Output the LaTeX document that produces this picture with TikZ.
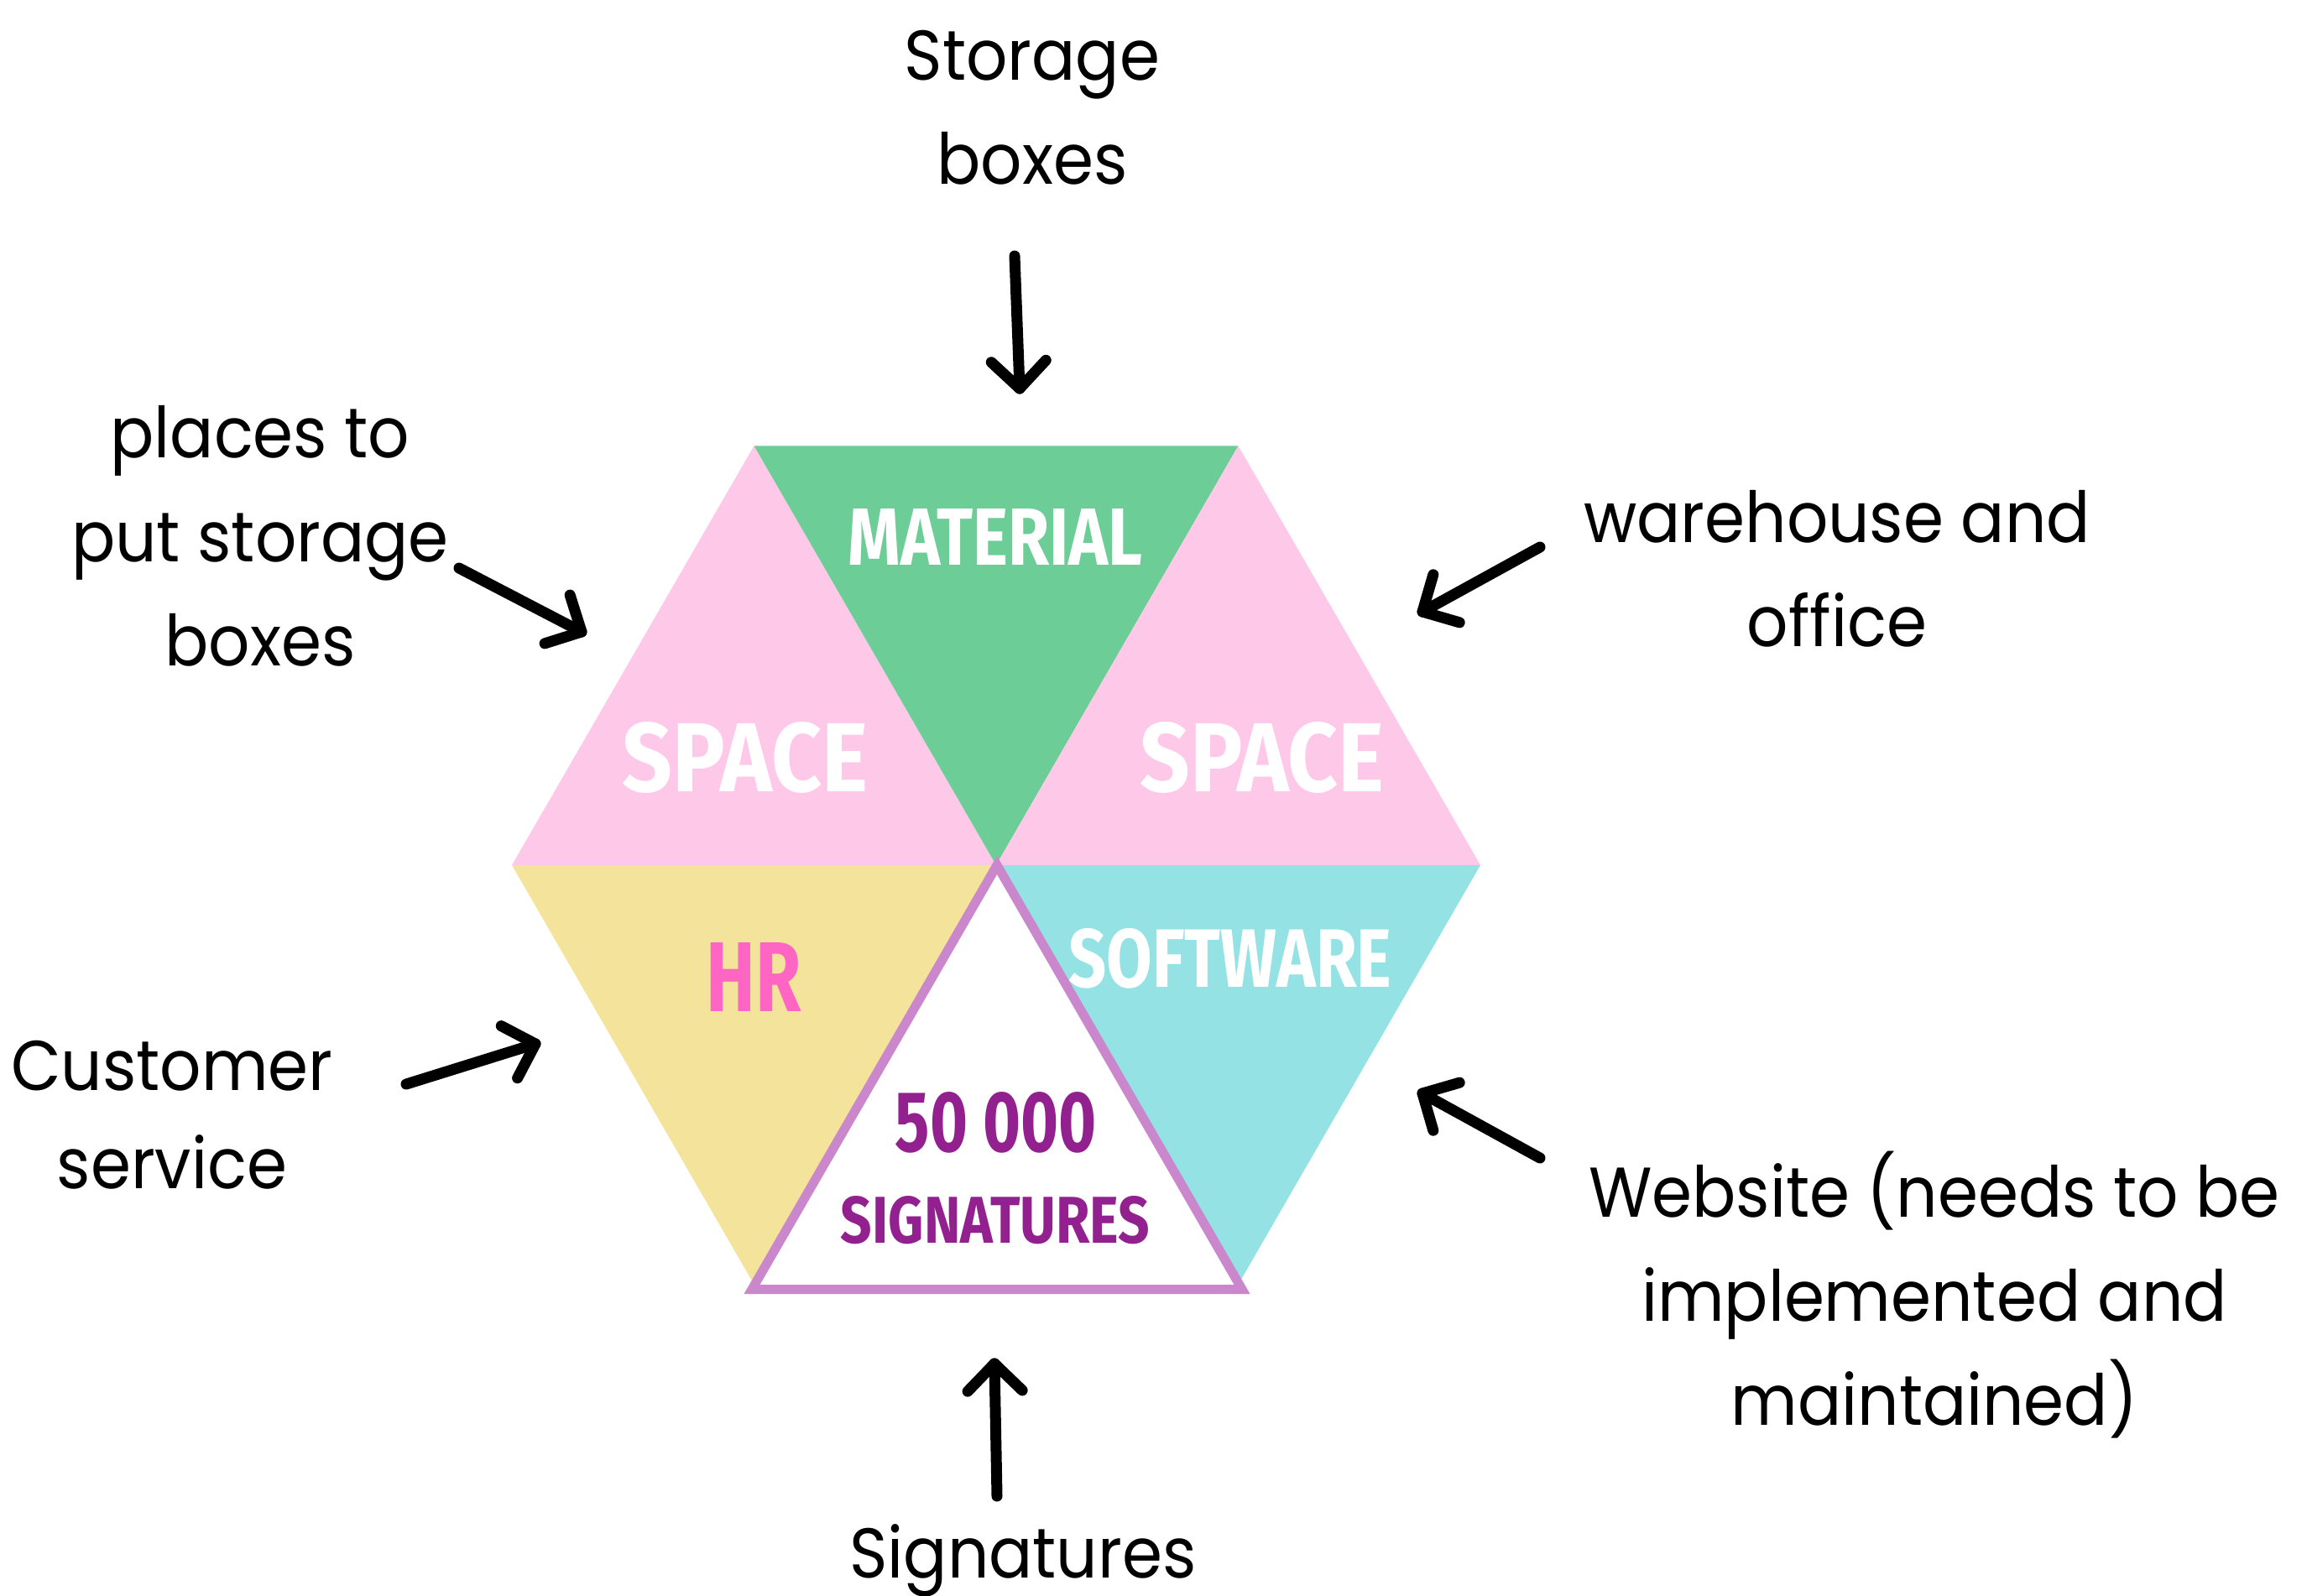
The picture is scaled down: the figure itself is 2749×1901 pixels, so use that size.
\documentclass[tikz,border=0pt]{standalone}
\usepackage{fontspec}
\usepackage{graphicx}
\setmainfont{Poppins}[FakeStretch=0.92]
\newfontfamily\dispfont{Fira Sans}
\usetikzlibrary{calc}
\definecolor{hexpink}{HTML}{FEC8E8}
\definecolor{hexgreen}{HTML}{6DCD97}
\definecolor{hexyellow}{HTML}{F4E39B}
\definecolor{hexcyan}{HTML}{95E2E5}
\definecolor{sigborder}{HTML}{CA87CB}
\definecolor{sigtext}{HTML}{92208F}
\definecolor{hrpink}{HTML}{FF66C4}
\newcommand\fitlab[3]{\resizebox{#1pt}{#2pt}{\dispfont\bfseries #3}}
\newcommand\lbl[1]{\begin{tabular}[t]{@{}c@{}}#1\end{tabular}}
\begin{document}
\begin{tikzpicture}[x=1pt,y=-1pt,
  labeltext/.style={inner sep=0pt,anchor=base,font=\fontsize{84}{124}\selectfont},
  titletext/.style={inner sep=0pt,anchor=center},
  arrowline/.style={line width=13pt,line cap=round,line join=round,black}]
\useasboundingbox (0,0) rectangle (2749,1901);
\fill[white] (0,0) rectangle (2749,1901);
% hexagon vertices (side 577, centre O)
\coordinate (O)  at (1187,1031);
\coordinate (TL) at (898.5,531.3);
\coordinate (TR) at (1475.5,531.3);
\coordinate (L)  at (610,1031);
\coordinate (R)  at (1764,1031);
\coordinate (BL) at (898.5,1530.7);
\coordinate (BR) at (1475.5,1530.7);
% triangles
\fill[hexpink]   (TL) -- (L) -- (O) -- cycle;
\fill[hexgreen]  (TL) -- (TR) -- (O) -- cycle;
\fill[hexpink]   (TR) -- (R) -- (O) -- cycle;
\fill[hexyellow] (L) -- (BL) -- (O) -- cycle;
\fill[hexcyan]   (R) -- (BR) -- (O) -- cycle;
% white signature triangle
\coordinate (SA) at (1188,1031);
\coordinate (SL) at (896,1536.5);
\coordinate (SR) at (1480,1536.5);
\filldraw[fill=white,draw=sigborder,line width=11pt,line join=miter] (SA) -- (SL) -- (SR) -- cycle;
% titles
\node[titletext,text=white] (material) at (1186,640) {\fitlab{351}{67}{MATERIAL}};
\node[titletext,text=white] (spaceL) at (888,903) {\fitlab{292}{83}{SPACE}};
\node[titletext,text=white] (spaceR) at (1504,903) {\fitlab{291}{83}{SPACE}};
\node[titletext,text=hrpink] (hr) at (898,1164) {\fitlab{113}{82}{HR}};
\node[titletext,text=white] (software) at (1466,1142) {\fitlab{385}{70}{SOFTWARE}};
\node[titletext,text=sigtext] (count) at (1187,1338) {\fitlab{240}{71}{50 000}};
\node[titletext,text=sigtext] (sigs) at (1186,1454) {\fitlab{368}{56}{SIGNATURES}};
% outer labels
\node[labeltext] (storage) at (1230,95) {\lbl{Storage\\boxes}};
\node[labeltext] (places) at (310,545) {\lbl{places to\\put storage\\boxes}};
\node[labeltext] (warehouse) at (2189,646) {\lbl{warehouse and\\office}};
\node[labeltext] (website) at (2305,1450) {\lbl{Website (needs to be\\implemented and\\maintained)}};
\node[labeltext,font=\fontsize{84}{117}\selectfont] (customer) at (205,1299) {\lbl{Customer\\service}};
\node[labeltext] (signatures) at (1219,1880) {Signatures};
% arrows
\coordinate (t1) at (1209,305);  \coordinate (h1) at (1215,463);
\coordinate (t2) at (1188,1783); \coordinate (h2) at (1185,1625);
\coordinate (t3) at (484,1292);  \coordinate (h3) at (638,1244);
\coordinate (t4) at (547,677);   \coordinate (h4) at (693,753);
\coordinate (t5) at (1835,652);  \coordinate (h5) at (1695,729);
\coordinate (t6) at (1835,1380); \coordinate (h6) at (1695,1303);
\foreach \t/\h in {t1/h1,t2/h2,t3/h3,t4/h4,t5/h5,t6/h6}{
  \draw[arrowline] (\t) -- (\h);
  \draw[arrowline] ($(\h)!46pt!45:(\t)$) -- (\h) -- ($(\h)!46pt!-45:(\t)$);
}
\end{tikzpicture}
\end{document}
